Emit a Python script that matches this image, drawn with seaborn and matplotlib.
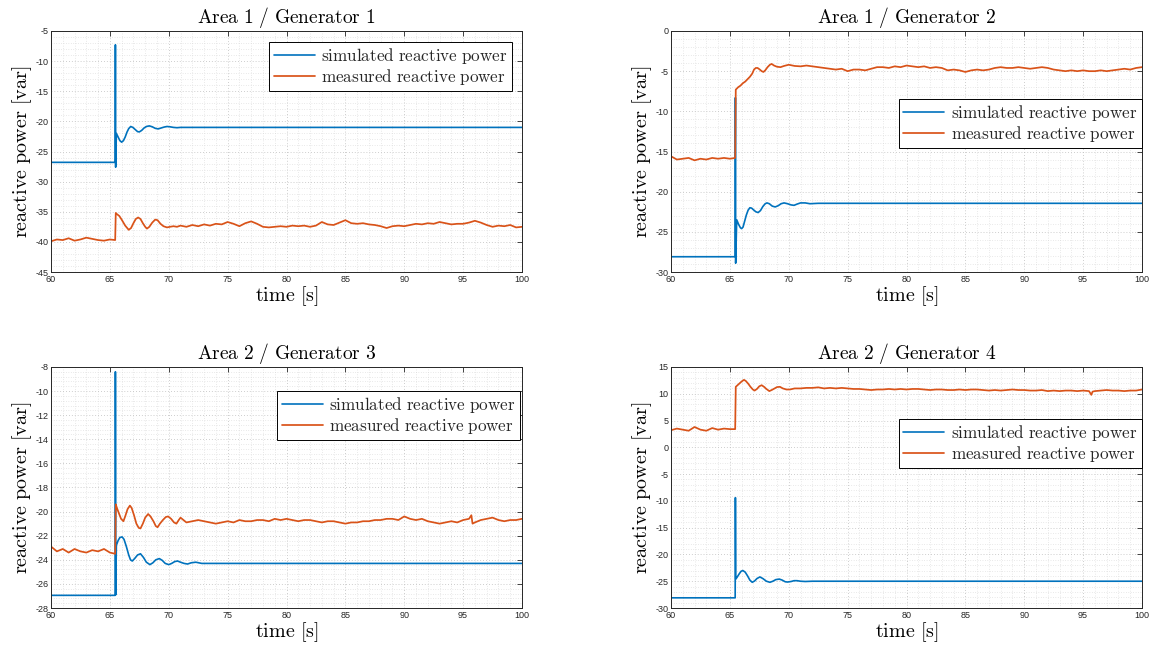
import numpy as np
import pandas as pd
import matplotlib
matplotlib.use("Agg")
import matplotlib.pyplot as plt
import seaborn as sns
from matplotlib.ticker import MultipleLocator

sns.set_theme(style="white")
plt.rcParams["font.family"] = ["Liberation Sans", "DejaVu Sans"]
plt.rcParams["mathtext.fontset"] = "cm"
plt.rcParams["axes.unicode_minus"] = False

BLUE = "#0072BD"
ORANGE = "#D95319"
INK = "#262626"

# ---------------- Generator 1 ----------------
g1_sim_t = [60, 65.45, 65.47, 65.49, 65.55, 65.7, 65.85, 66.0, 66.15, 66.3, 66.45, 66.6,
            66.77, 66.95, 67.15, 67.35, 67.5, 67.7, 67.9, 68.1, 68.35, 68.6, 68.85, 69.1,
            69.35, 69.6, 69.85, 70.1, 70.4, 70.7, 71.0, 72.0, 100]
g1_sim_q = [-26.8, -26.8, -7.3, -27.6, -22.0, -22.6, -23.2, -23.45, -23.2, -22.6, -21.8, -21.2,
            -20.85, -21.0, -21.35, -21.7, -21.75, -21.5, -21.1, -20.85, -20.75, -20.9, -21.15, -21.25,
            -21.1, -20.95, -20.85, -20.9, -21.0, -21.05, -21.0, -21.0, -21.0]
g1_meas_pre = [-39.9, -39.6, -39.7, -39.4, -39.8, -39.6, -39.3, -39.5, -39.7, -39.8, -39.6, -39.7]
g1_meas_tr_t = [65.5, 65.6, 65.8, 66.0, 66.3, 66.6, 66.8, 67.0, 67.2, 67.4, 67.6, 67.8,
                68.0, 68.15, 68.35, 68.6, 68.85, 69.05, 69.3, 69.55, 69.85, 70.1, 70.4, 70.7]
g1_meas_tr_q = [-35.2, -35.4, -35.7, -36.3, -37.3, -38.0, -37.7, -36.9, -36.2, -35.95, -36.2, -36.9,
                -37.5, -37.8, -37.5, -36.8, -36.3, -36.4, -37.0, -37.4, -37.6, -37.5, -37.4, -37.5]
g1_meas_post = [-37.3, -37.5, -37.2, -37.4, -37.1, -37.3, -37.0, -37.1, -36.7, -37.0,
                -37.4, -36.9, -36.6, -37.0, -37.5, -37.6, -37.5, -37.4, -37.5, -37.3,
                -37.4, -37.3, -37.5, -37.3, -36.7, -37.1, -37.2, -36.8, -36.4, -36.9,
                -37.0, -36.9, -37.1, -37.2, -37.4, -37.7, -37.4, -37.3, -37.4, -37.2,
                -37.0, -37.1, -36.9, -37.0, -36.7, -36.9, -37.1, -37.0, -37.0, -36.8,
                -36.5, -36.8, -37.2, -37.5, -37.3, -37.4, -37.2, -37.6, -37.5]
g1_meas_extra_t = []
g1_meas_extra_q = []

# ---------------- Generator 2 ----------------
g2_sim_t = [60, 65.45, 65.47, 65.49, 65.58, 65.75, 65.9, 66.0, 66.12, 66.25, 66.4, 66.55,
            66.7, 66.85, 67.0, 67.2, 67.4, 67.6, 67.8, 68.0, 68.15, 68.35, 68.6, 68.85,
            69.1, 69.35, 69.6, 69.9, 70.2, 70.45, 70.7, 71.0, 71.4, 71.8, 72.5, 100]
g2_sim_q = [-28.1, -28.1, -8.3, -28.9, -23.5, -24.1, -24.5, -24.6, -24.4, -23.7, -22.9, -22.3,
            -22.0, -22.05, -22.25, -22.5, -22.6, -22.35, -21.85, -21.5, -21.4, -21.5, -21.8, -21.9,
            -21.75, -21.5, -21.4, -21.5, -21.65, -21.7, -21.55, -21.4, -21.4, -21.5, -21.45, -21.45]
g2_meas_pre = [-15.6, -16.0, -15.9, -15.8, -16.1, -15.9, -16.0, -15.8, -15.9, -15.8, -15.9, -15.8]
g2_meas_tr_t = [65.5, 65.7, 65.9, 66.1, 66.3, 66.5, 66.7, 66.9, 67.05, 67.2, 67.35, 67.5,
                67.7, 67.85, 68.0, 68.2, 68.4, 68.55, 68.75, 69.0, 69.3, 69.6, 70.0, 70.5]
g2_meas_tr_q = [-7.3, -7.0, -6.8, -6.5, -6.3, -6.0, -5.7, -5.3, -4.8, -4.6, -4.6, -4.75,
                -5.0, -5.1, -4.9, -4.5, -4.2, -4.1, -4.3, -4.45, -4.5, -4.35, -4.2, -4.35]
g2_meas_post = [-4.4, -4.3, -4.4, -4.5, -4.6, -4.7, -4.8, -4.7, -5.0, -4.8,
                -4.8, -4.9, -4.7, -4.5, -4.5, -4.6, -4.4, -4.5, -4.3, -4.4,
                -4.5, -4.4, -4.6, -4.5, -4.6, -4.9, -4.8, -4.9, -5.1, -4.9,
                -4.8, -4.9, -4.8, -4.6, -4.5, -4.6, -4.6, -4.5, -4.6, -4.7,
                -4.6, -4.5, -4.6, -4.8, -4.9, -5.0, -4.9, -5.0, -4.9, -5.0,
                -5.0, -4.9, -5.0, -4.9, -4.8, -4.7, -4.8, -4.6, -4.5]
g2_meas_extra_t = []
g2_meas_extra_q = []

# ---------------- Generator 3 ----------------
g3_sim_t = [60, 65.45, 65.47, 65.5, 65.55, 65.7, 65.85, 66.04, 66.2, 66.4, 66.6, 66.75,
            66.9, 67.1, 67.35, 67.6, 67.85, 68.1, 68.4, 68.65, 68.9, 69.2, 69.45, 69.7,
            70.0, 70.25, 70.5, 70.75, 71.0, 71.3, 71.6, 71.9, 72.3, 72.8, 100]
g3_sim_q = [-26.95, -26.95, -8.4, -26.9, -22.8, -22.4, -22.15, -22.1, -22.3, -22.9, -23.6, -24.0,
            -24.1, -23.9, -23.6, -23.5, -23.8, -24.2, -24.4, -24.25, -24.0, -23.9, -24.05, -24.3,
            -24.4, -24.3, -24.15, -24.1, -24.2, -24.3, -24.35, -24.25, -24.2, -24.3, -24.3]
g3_meas_pre = [-22.9, -23.3, -23.1, -23.4, -23.1, -23.3, -23.4, -23.2, -23.3, -23.1, -23.4, -23.5]
g3_meas_tr_t = [65.5, 65.6, 65.75, 65.95, 66.15, 66.3, 66.5, 66.7, 66.85, 67.05, 67.25, 67.45,
                67.6, 67.8, 68.0, 68.25, 68.45, 68.7, 68.9, 69.05, 69.25, 69.5, 69.75, 69.95,
                70.2, 70.45, 70.65, 70.85]
g3_meas_tr_q = [-19.4, -19.7, -20.1, -20.6, -20.8, -20.4, -19.8, -19.5, -19.7, -20.3, -21.0, -21.35,
                -21.4, -21.0, -20.5, -20.2, -20.4, -20.8, -21.2, -21.3, -21.0, -20.7, -20.45, -20.4,
                -20.6, -20.9, -21.0, -20.7]
g3_meas_post = [-20.5, -20.9, -20.8, -20.7, -20.8, -20.9, -21.0, -20.9, -20.8, -20.9,
                -20.7, -20.8, -20.8, -20.7, -20.7, -20.8, -20.6, -20.7, -20.6, -20.7,
                -20.8, -20.7, -20.7, -20.8, -20.9, -20.8, -20.8, -20.9, -21.0, -20.9,
                -20.9, -20.8, -20.8, -20.7, -20.7, -20.6, -20.6, -20.7, -20.4, -20.6,
                -20.7, -20.6, -20.8, -20.9, -21.0, -20.9, -20.8, -20.9, -20.7, -20.6,
                -20.9, -20.7, -20.6, -20.5, -20.7, -20.8, -20.7, -20.7, -20.6]
g3_meas_extra_t = [95.7, 95.8]
g3_meas_extra_q = [-20.3, -21.0]

# ---------------- Generator 4 ----------------
g4_sim_t = [60, 65.45, 65.47, 65.5, 65.6, 65.8, 65.95, 66.1, 66.3, 66.5, 66.7, 66.9,
            67.1, 67.3, 67.55, 67.8, 68.1, 68.4, 68.65, 68.9, 69.2, 69.45, 69.7, 69.9,
            70.2, 70.45, 70.7, 71.0, 71.4, 72.0, 100]
g4_sim_q = [-28.1, -28.1, -9.4, -24.6, -24.3, -23.6, -23.15, -23.0, -23.3, -24.0, -24.8, -25.2,
            -24.95, -24.5, -24.2, -24.5, -25.0, -25.2, -25.0, -24.7, -24.6, -24.8, -25.1, -25.15,
            -25.05, -24.9, -24.9, -25.0, -25.05, -25.0, -25.0]
g4_meas_pre = [3.2, 3.5, 3.3, 3.1, 3.8, 3.3, 3.1, 3.6, 3.3, 3.5, 3.4, 3.4]
g4_meas_tr_t = [65.5, 65.65, 65.8, 66.0, 66.2, 66.35, 66.55, 66.75, 66.95, 67.1, 67.3, 67.5,
                67.7, 67.9, 68.1, 68.35, 68.55, 68.8, 69.0, 69.25, 69.5, 69.8, 70.1, 70.5]
g4_meas_tr_q = [11.3, 11.6, 11.9, 12.3, 12.6, 12.4, 11.9, 11.3, 10.8, 10.6, 10.9, 11.4,
                11.6, 11.3, 10.9, 10.5, 10.7, 11.0, 11.25, 11.3, 11.0, 10.8, 10.8, 11.0]
g4_meas_post = [11.0, 11.1, 11.1, 11.2, 11.0, 11.1, 11.0, 11.1, 11.0, 10.9,
                10.9, 10.8, 10.7, 10.8, 10.8, 10.9, 10.8, 10.9, 10.8, 10.9,
                10.9, 10.8, 10.7, 10.8, 10.8, 10.7, 10.7, 10.8, 10.7, 10.8,
                10.8, 10.7, 10.6, 10.7, 10.6, 10.7, 10.8, 10.7, 10.7, 10.6,
                10.6, 10.7, 10.5, 10.6, 10.5, 10.6, 10.6, 10.5, 10.6, 10.5,
                10.5, 10.6, 10.7, 10.6, 10.6, 10.5, 10.6, 10.6, 10.8]
g4_meas_extra_t = [95.7, 95.8]
g4_meas_extra_q = [9.8, 10.4]

# sample instants of the measured records
pre_t = list(np.arange(60.0, 65.01, 0.5)) + [65.45]
post_t = list(np.arange(71.0, 100.01, 0.5))


def measured(pre, tr_t, tr_q, post, ex_t, ex_q):
    t = np.array(pre_t + tr_t + post_t + ex_t)
    q = np.array(pre + tr_q + post + ex_q)
    order = np.argsort(t, kind="stable")
    return pd.DataFrame({"t": t[order], "q": q[order]})


def rm(s):
    return r"$\mathrm{" + s.replace(" ", r"\ ") + "}$"


panels = [
    dict(title="Area 1 / Generator 1", ylim=(-45, -5), ystep=5,
         sim=pd.DataFrame({"t": g1_sim_t, "q": g1_sim_q}),
         meas=measured(g1_meas_pre, g1_meas_tr_t, g1_meas_tr_q, g1_meas_post,
                       g1_meas_extra_t, g1_meas_extra_q),
         rect=[51, 31], leg=(0.979, 0.954)),
    dict(title="Area 1 / Generator 2", ylim=(-30, 0), ystep=5,
         sim=pd.DataFrame({"t": g2_sim_t, "q": g2_sim_q}),
         meas=measured(g2_meas_pre, g2_meas_tr_t, g2_meas_tr_q, g2_meas_post,
                       g2_meas_extra_t, g2_meas_extra_q),
         rect=[671, 31], leg=(1.0, 0.718)),
    dict(title="Area 2 / Generator 3", ylim=(-28, -8), ystep=2,
         sim=pd.DataFrame({"t": g3_sim_t, "q": g3_sim_q}),
         meas=measured(g3_meas_pre, g3_meas_tr_t, g3_meas_tr_q, g3_meas_post,
                       g3_meas_extra_t, g3_meas_extra_q),
         rect=[51, 367], leg=(0.996, 0.901)),
    dict(title="Area 2 / Generator 4", ylim=(-30, 15), ystep=5,
         sim=pd.DataFrame({"t": g4_sim_t, "q": g4_sim_q}),
         meas=measured(g4_meas_pre, g4_meas_tr_t, g4_meas_tr_q, g4_meas_post,
                       g4_meas_extra_t, g4_meas_extra_q),
         rect=[671, 367], leg=(1.0, 0.785)),
]

W, H = 1153, 649
fig = plt.figure(figsize=(W / 100, H / 100), dpi=100)
fig.patch.set_facecolor("white")

for p in panels:
    x0, y0 = p["rect"]
    aw, ah = 471, 241
    ax = fig.add_axes([x0 / W, 1 - (y0 + ah) / H, aw / W, ah / H])
    sns.lineplot(data=p["sim"], x="t", y="q", ax=ax, color=BLUE, lw=1.2,
                 estimator=None, sort=False, label=rm("simulated reactive power"))
    sns.lineplot(data=p["meas"], x="t", y="q", ax=ax, color=ORANGE, lw=1.25,
                 estimator=None, sort=False, label=rm("measured reactive power"))

    ax.set_xlim(60, 100)
    ax.set_ylim(*p["ylim"])
    ax.xaxis.set_major_locator(MultipleLocator(5))
    ax.xaxis.set_minor_locator(MultipleLocator(1))
    ax.yaxis.set_major_locator(MultipleLocator(p["ystep"]))
    ax.yaxis.set_minor_locator(MultipleLocator(p["ystep"] / 5))

    ax.grid(which="major", ls=(0, (1, 2.5)), color="#bdbdbd", lw=0.6)
    ax.grid(which="minor", ls=(0, (1, 2.5)), color="#d4d4d4", lw=0.5)
    ax.set_axisbelow(True)

    ax.tick_params(which="major", direction="in", length=3.5, width=0.6,
                   top=True, right=True, colors=INK, labelsize=6.5, pad=2)
    ax.tick_params(which="minor", length=0)
    for s in ax.spines.values():
        s.set_color(INK)
        s.set_linewidth(0.7)

    ax.set_title(rm(p["title"]), fontsize=14, pad=6, color="black")
    ax.set_xlabel(rm("time [s]"), fontsize=14.5, labelpad=0, color="black")
    ax.set_ylabel(rm("reactive power [var]"), fontsize=14.5, labelpad=1, color="black")

    leg = ax.legend(loc="upper right", bbox_to_anchor=p["leg"], fontsize=12.3,
                    frameon=True, fancybox=False, edgecolor="black", framealpha=1,
                    handlelength=2.4, handletextpad=0.4, labelspacing=0.05,
                    borderpad=0.25, borderaxespad=0.0)
    leg.get_frame().set_linewidth(0.7)

fig.savefig("out.png", dpi=100, facecolor="white")
